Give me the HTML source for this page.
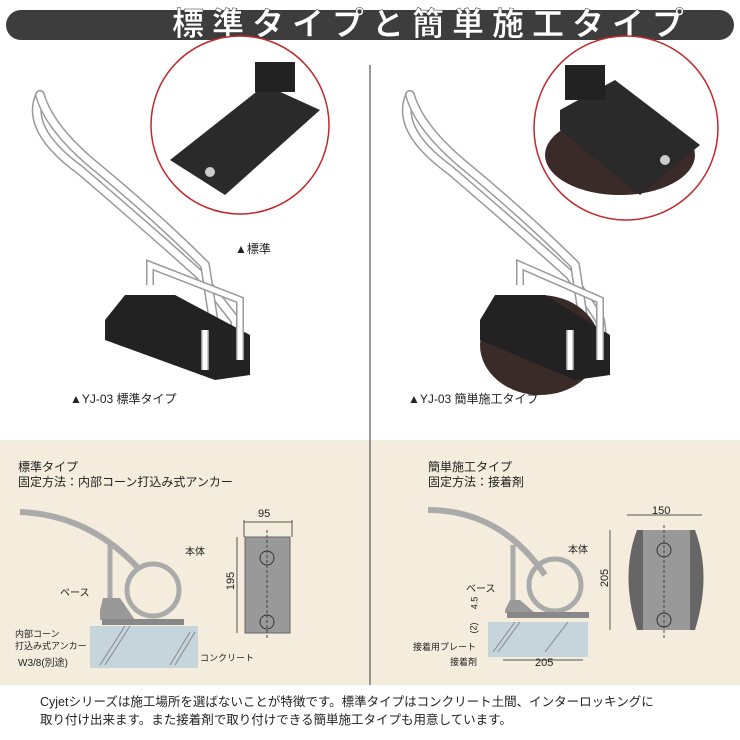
<!DOCTYPE html>
<html><head><meta charset="utf-8"><style>
body{margin:0;width:740px;height:740px;background:#fff;font-family:"Liberation Sans","Noto Sans CJK JP",sans-serif;position:relative;overflow:hidden}
.t{position:absolute;font-size:12px;color:#222;white-space:nowrap}
</style></head><body>
<svg width="740" height="740" style="position:absolute;left:0;top:0">
<rect x="6" y="10" width="728" height="30" rx="15" fill="#3d3d3d"/>
<text x="172" y="35" font-size="32" font-weight="bold" letter-spacing="8" fill="#fff" stroke="#333" stroke-width="0.5" font-family="Liberation Sans,Noto Sans CJK JP,sans-serif">標準タイプと簡単施工タイプ</text>
<rect x="0" y="440" width="740" height="245" fill="#f4eddd"/>
<line x1="370" y1="65" x2="370" y2="685" stroke="#777" stroke-width="1.5"/>
<!-- left photo -->
<circle cx="240" cy="125" r="89" fill="#fff" stroke="#c0282d" stroke-width="1.5"/>
<polygon points="170,160 265,85 320,110 225,195" fill="#2a2a2a"/>
<rect x="255" y="62" width="40" height="30" fill="#222"/>
<circle cx="210" cy="172" r="5" fill="#ccc"/>
<g fill="none" stroke-linecap="round">
<path d="M40,95 Q25,130 80,170 Q150,230 200,275 L235,320 L240,355" stroke="#999" stroke-width="10"/>
<path d="M40,95 Q25,130 80,170 Q150,230 200,275 L235,320 L240,355" stroke="#fff" stroke-width="7"/>
<path d="M40,95 Q50,130 100,170 Q160,220 205,265 L215,330" stroke="#999" stroke-width="10"/>
<path d="M40,95 Q50,130 100,170 Q160,220 205,265 L215,330" stroke="#fff" stroke-width="7"/>
</g>
<polygon points="105,320 125,295 175,295 250,335 250,375 215,380 105,340" fill="#222"/>
<path d="M150,285 L150,265 L240,300 L240,360 M205,330 L205,370" stroke="#999" stroke-width="8" fill="none"/>
<path d="M150,285 L150,265 L240,300 L240,360 M205,330 L205,370" stroke="#fff" stroke-width="5" fill="none"/>
<!-- right photo -->
<circle cx="626" cy="128" r="92" fill="#fff" stroke="#c0282d" stroke-width="1.5"/>
<ellipse cx="620" cy="155" rx="75" ry="40" fill="#3a2a28"/>
<polygon points="560,110 615,80 700,145 640,195 560,130" fill="#2a2a2a"/>
<rect x="565" y="65" width="40" height="35" fill="#222"/>
<circle cx="665" cy="160" r="5" fill="#ccc"/>
<g fill="none" stroke-linecap="round">
<path d="M410,95 Q395,130 450,170 Q520,230 570,275 L600,320 L605,355" stroke="#999" stroke-width="10"/>
<path d="M410,95 Q395,130 450,170 Q520,230 570,275 L600,320 L605,355" stroke="#fff" stroke-width="7"/>
<path d="M410,95 Q420,130 470,170 Q530,220 575,265 L585,330" stroke="#999" stroke-width="10"/>
<path d="M410,95 Q420,130 470,170 Q530,220 575,265 L585,330" stroke="#fff" stroke-width="7"/>
</g>
<ellipse cx="540" cy="345" rx="60" ry="50" fill="#3a2a28"/>
<polygon points="480,320 495,295 545,295 610,335 610,375 575,380 480,340" fill="#222"/>
<path d="M520,285 L520,265 L600,300 L600,360 M570,330 L570,370" stroke="#999" stroke-width="8" fill="none"/>
<path d="M520,285 L520,265 L600,300 L600,360 M570,330 L570,370" stroke="#fff" stroke-width="5" fill="none"/>
<!-- left drawing -->
<g stroke="#777" fill="none">
<path d="M20,512 Q90,515 140,570" stroke="#aaa" stroke-width="6"/>
<line x1="110" y1="545" x2="110" y2="605" stroke="#aaa" stroke-width="5"/>
<circle cx="153" cy="590" r="26" stroke="#aaa" stroke-width="5"/>
</g>
<polygon points="100,610 103,598 120,598 135,620 100,620" fill="#999"/>
<rect x="102" y="619" width="82" height="6" fill="#888"/>
<rect x="90" y="626" width="108" height="42" fill="#c6d4dc"/>
<path d="M100,665 L125,626 M105,665 L130,626 M170,665 L190,632 M175,665 L195,632" stroke="#888"/>
<rect x="245" y="537" width="45" height="96" fill="#999" stroke="#666"/>
<line x1="267" y1="530" x2="267" y2="640" stroke="#444" stroke-dasharray="3,2"/>
<circle cx="267" cy="558" r="7" fill="none" stroke="#333"/>
<circle cx="267" cy="622" r="7" fill="none" stroke="#333"/>
<line x1="244" y1="520" x2="244" y2="537" stroke="#555"/><line x1="292" y1="520" x2="292" y2="537" stroke="#555"/>
<line x1="244" y1="522" x2="292" y2="522" stroke="#555"/>
<line x1="237" y1="537" x2="237" y2="633" stroke="#555"/>
<!-- right drawing -->
<path d="M428,510 Q500,510 545,575" stroke="#aaa" stroke-width="6" fill="none"/>
<line x1="513" y1="545" x2="513" y2="605" stroke="#aaa" stroke-width="5"/>
<circle cx="555" cy="585" r="26" stroke="#aaa" stroke-width="5" fill="none"/>
<polygon points="505,610 510,600 520,600 535,613 505,613" fill="#999"/>
<rect x="507" y="612" width="82" height="6" fill="#888"/>
<rect x="488" y="622" width="100" height="35" fill="#c6d4dc"/>
<path d="M493,652 L515,622 M498,652 L520,622 M545,652 L568,622" stroke="#888"/>
<path d="M637,530 Q620,575 637,630 L695,630 Q712,575 695,530 Z" fill="#666"/>
<rect x="643" y="530" width="47" height="100" fill="#999"/>
<line x1="664" y1="525" x2="664" y2="640" stroke="#444" stroke-dasharray="3,2"/>
<circle cx="664" cy="550" r="7" fill="none" stroke="#333"/>
<circle cx="664" cy="620" r="7" fill="none" stroke="#333"/>
<line x1="627" y1="515" x2="702" y2="515" stroke="#555"/>
<line x1="610" y1="530" x2="610" y2="630" stroke="#555"/>
<line x1="503" y1="660" x2="583" y2="660" stroke="#555"/>
</svg>
<div class="t" style="left:70px;top:390px">▲YJ-03 標準タイプ</div>
<div class="t" style="left:235px;top:240px">▲標準</div>
<div class="t" style="left:408px;top:390px">▲YJ-03 簡単施工タイプ</div>
<div class="t" style="left:18px;top:460px;line-height:15px">標準タイプ<br>固定方法：内部コーン打込み式アンカー</div>
<div class="t" style="left:428px;top:460px;line-height:15px">簡単施工タイプ<br>固定方法：接着剤</div>
<div class="t" style="left:258px;top:508px;font-size:11px">95</div>
<div class="t" style="left:222px;top:575px;font-size:11px;transform:rotate(-90deg)">195</div>
<div class="t" style="left:185px;top:543px;font-size:10px">本体</div>
<div class="t" style="left:60px;top:584px;font-size:10px">ベース</div>
<div class="t" style="left:15px;top:628px;font-size:9px;line-height:12px">内部コーン<br>打込み式アンカー</div>
<div class="t" style="left:18px;top:654px;font-size:10px">W3/8(別途)</div>
<div class="t" style="left:200px;top:651px;font-size:9px">コンクリート</div>
<div class="t" style="left:652px;top:505px;font-size:11px">150</div>
<div class="t" style="left:596px;top:572px;font-size:11px;transform:rotate(-90deg)">205</div>
<div class="t" style="left:568px;top:541px;font-size:10px">本体</div>
<div class="t" style="left:466px;top:580px;font-size:10px">ベース</div>
<div class="t" style="left:468px;top:598px;font-size:9px;transform:rotate(-90deg)">4.5</div>
<div class="t" style="left:468px;top:623px;font-size:9px;transform:rotate(-90deg)">(2)</div>
<div class="t" style="left:413px;top:640px;font-size:9px">接着用プレート</div>
<div class="t" style="left:450px;top:655px;font-size:9px">接着剤</div>
<div class="t" style="left:535px;top:657px;font-size:11px">205</div>
<div class="t" style="left:40px;top:693px;font-size:12.5px;line-height:18px">Cyjetシリーズは施工場所を選ばないことが特徴です。標準タイプはコンクリート土間、インターロッキングに<br>取り付け出来ます。また接着剤で取り付けできる簡単施工タイプも用意しています。</div>
</body></html>
